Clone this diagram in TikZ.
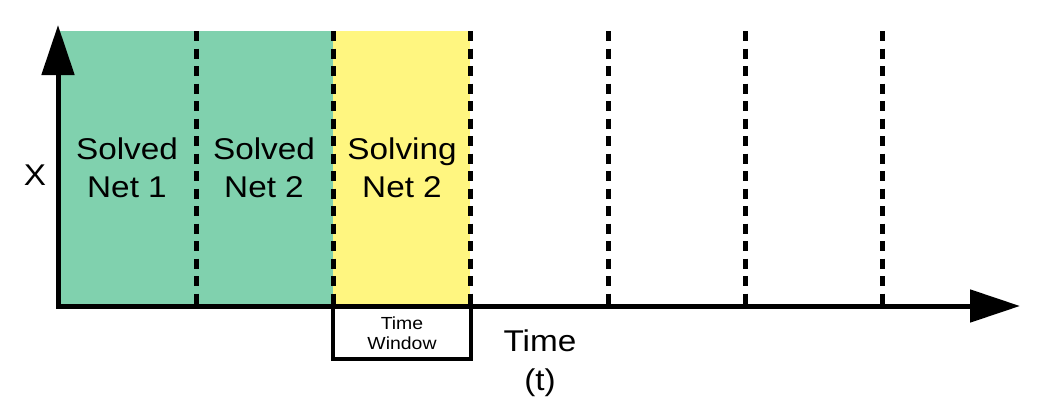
\documentclass[tikz,border=0pt]{standalone}
\usepackage{fontspec}
\setmainfont{Liberation Sans}
\newfontfamily\widesans[FakeStretch=1.11]{Liberation Sans}
\usetikzlibrary{arrows.meta}
\definecolor{solvedgreen}{RGB}{128,209,174}
\definecolor{solvingyellow}{RGB}{255,246,128}
\tikzset{
  axisline/.style={line width=5pt, line join=miter, {Triangle[length=50pt,width=32pt]}-{Triangle[length=50pt,width=32pt]}},
  divline/.style={line width=5pt, dash pattern=on 10pt off 7.5pt},
  bigtext/.style={align=center, font=\widesans\fontsize{30pt}{38.5pt}\selectfont, inner sep=0pt},
  smalltext/.style={align=center, font=\widesans\fontsize{17.5pt}{20.5pt}\selectfont, inner sep=0pt},
  windowline/.style={line width=4pt, line join=miter}
}
\begin{document}
\begin{tikzpicture}[x=1pt,y=-1pt]
\useasboundingbox (0,0) rectangle (1040,418);
% regions
\fill[solvedgreen] (58,31) rectangle (333,306);
\fill[solvingyellow] (333,31) rectangle (470,306);
% dashed dividers
\foreach \i/\xx in {1/196,2/333,3/470,4/608,5/745,6/882} {
  \coordinate (top\i) at (\xx,31);
  \coordinate (bot\i) at (\xx,306);
  \draw[divline] (top\i) -- (bot\i);
}
% axes
\coordinate (ytip) at (58,25);
\coordinate (origin) at (58,306);
\coordinate (xtip) at (1020,306);
\draw[axisline] (ytip) -- (origin) -- (xtip);
% time window bracket
\coordinate (wl) at (333,306);
\coordinate (wr) at (471,306);
\coordinate (wbl) at (333,359);
\coordinate (wbr) at (471,359);
\draw[windowline] (wl) -- (wbl) -- (wbr) -- (wr);
% labels
\node[bigtext] (s1) at (127,168) {Solved\\Net 1};
\node[bigtext] (s2) at (264,168) {Solved\\Net 2};
\node[bigtext] (s3) at (402,168) {Solving\\Net 2};
\node[bigtext] (xl) at (35,175) {X};
\node[bigtext] (tl) at (540,363) {Time\\(t)};
\node[smalltext] (tw) at (402,333) {Time\\Window};
\end{tikzpicture}
\end{document}
